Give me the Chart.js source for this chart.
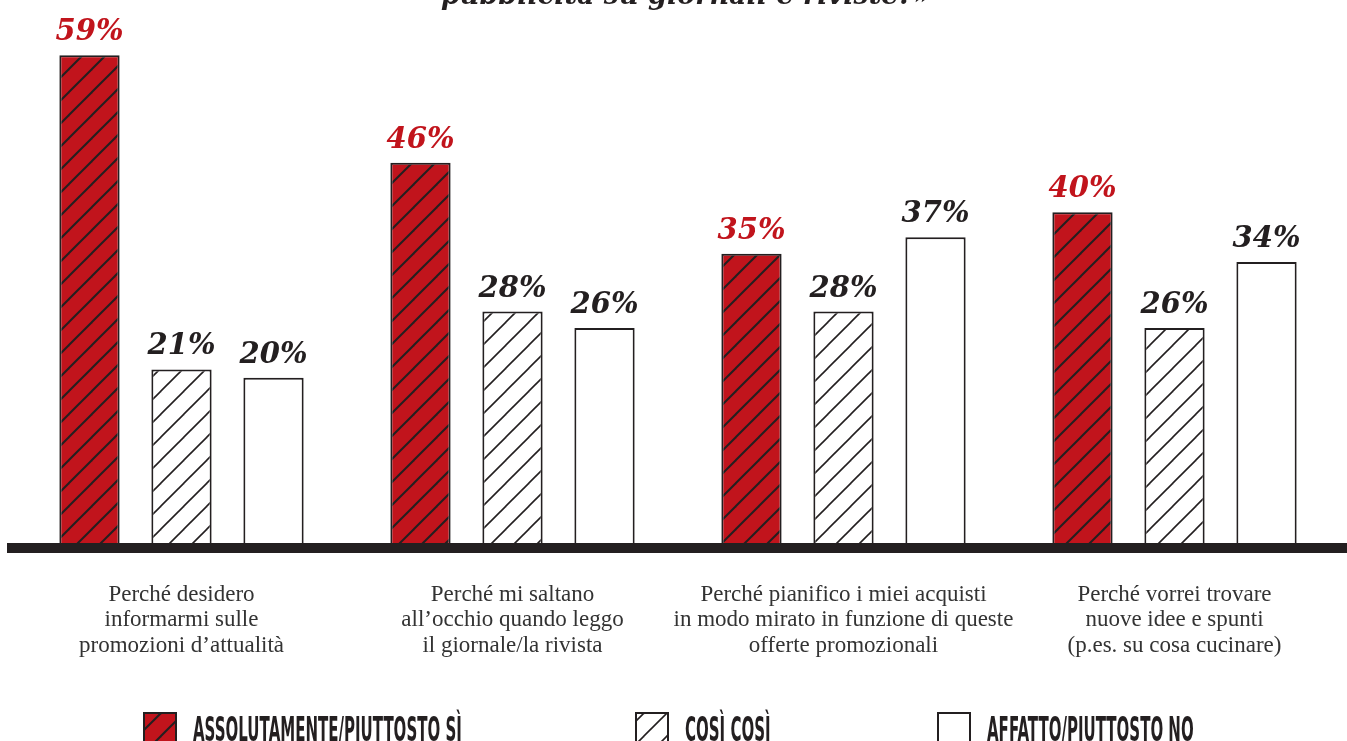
<!DOCTYPE html>
<html>
<head>
<meta charset="utf-8">
<script src="https://cdn.jsdelivr.net/npm/chart.js@4/dist/chart.umd.min.js"></script>
<style>
  html, body { margin: 0; padding: 0; background: #fff; }
  #wrap { position: relative; width: 1347px; height: 741px; overflow: hidden; }
</style>
</head>
<body>
<div id="wrap"><canvas id="c" width="1347" height="741"></canvas></div>
<script>
const titleText = 'pubblicità su giornali e riviste?»';
const categories = [
  ['Perché desidero', 'informarmi sulle', 'promozioni d’attualità'],
  ['Perché mi saltano', 'all’occhio quando leggo', 'il giornale/la rivista'],
  ['Perché pianifico i miei acquisti', 'in modo mirato in funzione di queste', 'offerte promozionali'],
  ['Perché vorrei trovare', 'nuove idee e spunti', '(p.es. su cosa cucinare)']
];
const seriesNames = ['ASSOLUTAMENTE/PIUTTOSTO SÌ', 'COSÌ COSÌ', 'AFFATTO/PIUTTOSTO NO'];
const valuesSi = [59, 46, 35, 40];
const valuesCosi = [21, 28, 28, 26];
const valuesNo = [20, 26, 37, 34];

const RED = '#c1141c';
const INK = '#231f20';

function hatch(bg, lw) {
  const s = 23;
  const p = document.createElement('canvas');
  p.width = s; p.height = s;
  const g = p.getContext('2d');
  g.fillStyle = bg; g.fillRect(0, 0, s, s);
  g.strokeStyle = INK; g.lineWidth = lw;
  [0, s, 2 * s].forEach(c => {
    g.beginPath();
    g.moveTo(-s, c + s);
    g.lineTo(2 * s, c - 2 * s);
    g.stroke();
  });
  return g.createPattern(p, 'repeat');
}
const ctx = document.getElementById('c').getContext('2d');
const fillSi = hatch(RED, 2);
const fillCosi = hatch('#ffffff', 1.6);
const fillNo = '#ffffff';
const fills = [fillSi, fillCosi, fillNo];

const decor = {
  id: 'decor',
  afterDatasetsDraw(chart) {
    const c = chart.ctx;
    const y0 = chart.scales.y.getPixelForValue(0);
    c.save();
    c.fillStyle = INK;
    c.fillRect(7, y0, chart.width - 7, 10);
    // value labels
    c.font = 'italic bold 29px "DejaVu Serif"';
    c.textAlign = 'center';
    c.textBaseline = 'alphabetic';
    chart.data.datasets.forEach((ds, di) => {
      const meta = chart.getDatasetMeta(di);
      c.fillStyle = di === 0 ? RED : INK;
      meta.data.forEach((bar, i) => {
        c.fillText(ds.data[i] + '%', bar.x, bar.y - 15);
      });
    });
    // title (cut off at the top)
    c.fillStyle = INK;
    c.font = 'italic bold 27px "DejaVu Serif"';
    c.fillText(titleText, 686, 4);
    // legend
    const xs = [143, 635, 937];
    chart.data.datasets.forEach((ds, di) => {
      const x = xs[di], y = 712, s = 34;
      c.fillStyle = fills[di];
      c.fillRect(x, y, s, s);
      c.strokeStyle = INK; c.lineWidth = 2;
      c.strokeRect(x + 1, y + 1, s - 2, s - 2);
      c.save();
      c.translate(x + s + 16, 741);
      c.scale(0.455, 1);
      c.fillStyle = INK;
      c.font = 'bold 33px "DejaVu Sans"';
      c.textAlign = 'left';
      c.fillText(ds.label, 0, 0);
      c.restore();
    });
    c.restore();
  }
};

new Chart(ctx, {
  type: 'bar',
  data: {
    labels: categories,
    datasets: [
      { label: seriesNames[0], data: valuesSi, backgroundColor: fillSi },
      { label: seriesNames[1], data: valuesCosi, backgroundColor: fillCosi },
      { label: seriesNames[2], data: valuesNo, backgroundColor: fillNo }
    ]
  },
  options: {
    responsive: false,
    animation: false,
    devicePixelRatio: 1,
    layout: { padding: { left: 16, right: 7, top: 47, bottom: 0 } },
    datasets: {
      bar: {
        categoryPercentage: 0.834,
        barPercentage: 0.655,
        borderColor: INK,
        borderWidth: 2,
        borderSkipped: 'bottom'
      }
    },
    plugins: { legend: { display: false }, tooltip: { enabled: false }, title: { display: false } },
    scales: {
      y: { display: false, min: 0, max: 60 },
      x: {
        grid: { display: false, drawTicks: false },
        border: { display: false },
        ticks: {
          color: '#333',
          padding: 39,
          maxRotation: 0,
          minRotation: 0,
          autoSkip: false,
          font: { family: '"Liberation Serif"', size: 23, lineHeight: 1.109 }
        },
        afterFit(scale) { scale.height = 198; }
      }
    }
  },
  plugins: [decor]
});
</script>
</body>
</html>
